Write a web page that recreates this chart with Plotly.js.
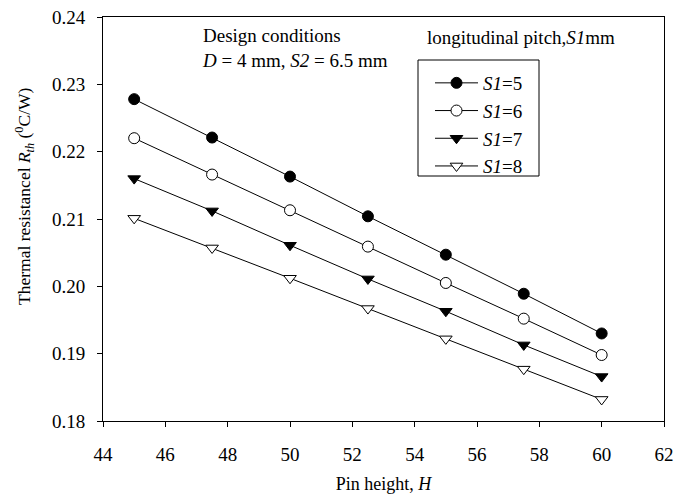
<!DOCTYPE html>
<html><head><meta charset="utf-8">
<script src="https://cdn.plot.ly/plotly-3.0.1.min.js"></script>
<style>html,body{margin:0;padding:0;background:#fff;}</style>
</head><body>
<div id="chart" style="width:676px;height:494px;"></div>
<script>
const pinHeight = [45, 47.5, 50, 52.5, 55, 57.5, 60];
const rS1_5 = [0.2278, 0.2221, 0.2163, 0.2104, 0.2047, 0.1989, 0.1930];
const rS1_6 = [0.2220, 0.2166, 0.2113, 0.2059, 0.2005, 0.1952, 0.1898];
const rS1_7 = [0.2160, 0.2112, 0.2061, 0.2011, 0.1963, 0.1913, 0.1866];
const rS1_8 = [0.2101, 0.2057, 0.2012, 0.1967, 0.1922, 0.1877, 0.1832];
const seriesNames = ['<i>S1</i>=5', '<i>S1</i>=6', '<i>S1</i>=7', '<i>S1</i>=8'];
const xTicks = [44, 46, 48, 50, 52, 54, 56, 58, 60, 62];
const yTicks = [0.18, 0.19, 0.20, 0.21, 0.22, 0.23, 0.24];

const font = '"Liberation Serif", "Times New Roman", Times, serif';
const markerDefs = [
  {symbol: 'circle', color: '#000', line: {color: '#000', width: 1}, size: 11},
  {symbol: 'circle', color: '#fff', line: {color: '#000', width: 1}, size: 11},
  {symbol: 'triangle-down', color: '#000', line: {color: '#000', width: 1}, size: 11},
  {symbol: 'triangle-down', color: '#fff', line: {color: '#000', width: 1}, size: 11}
];
const ys = [rS1_5, rS1_6, rS1_7, rS1_8];
const data = ys.map((y, i) => ({
  x: pinHeight, y: y, type: 'scatter', mode: 'lines+markers',
  name: seriesNames[i],
  line: {color: '#000', width: 1},
  marker: markerDefs[i]
}));

// plot area: x 103..664, y 17..421
const px = v => (v - 103) / 561;
const py = v => (421 - v) / 404;

const layout = {
  width: 676, height: 494,
  margin: {l: 103, r: 12, t: 17, b: 73},
  paper_bgcolor: '#fff', plot_bgcolor: '#fff',
  font: {family: font, size: 19, color: '#000'},
  showlegend: true,
  legend: {
    x: px(430), y: py(64), xanchor: 'left', yanchor: 'top',
    borderwidth: 0, bgcolor: 'rgba(0,0,0,0)',
    font: {family: font, size: 19, color: '#000'},
    itemwidth: 43, tracegroupgap: 0
  },
  shapes: [
    {type: 'rect', xref: 'paper', yref: 'paper', x0: px(418), x1: px(539), y0: py(176), y1: py(60),
     line: {color: '#000', width: 1}, fillcolor: 'rgba(0,0,0,0)'}
  ],
  xaxis: {
    range: [44, 62], tickvals: xTicks, ticks: 'outside', ticklen: 5, tickwidth: 1,
    tickcolor: '#000', showline: true, linecolor: '#000', linewidth: 1, mirror: true,
    showgrid: false, zeroline: false, ticklabelstandoff: 11,
    tickfont: {family: font, size: 19},
    title: {text: 'Pin height, <i>H</i>', font: {family: font, size: 18}, standoff: 13}
  },
  yaxis: {
    range: [0.18, 0.24], tickvals: yTicks, tickformat: '.2f', ticks: 'outside', ticklen: 5, tickwidth: 1,
    tickcolor: '#000', showline: true, linecolor: '#000', linewidth: 1, mirror: true,
    showgrid: false, zeroline: false, ticklabelstandoff: 8,
    tickfont: {family: font, size: 19}
  },
  annotations: [
    {xref: 'paper', yref: 'paper', x: px(25), y: py(196), xanchor: 'center', yanchor: 'middle', textangle: -90,
     text: 'Thermal resistancel <i>R<sub>th</sub></i> (<sup>0</sup>C/W)', showarrow: false, font: {family: font, size: 17.5}},
    {xref: 'paper', yref: 'paper', x: px(200), y: py(48), xanchor: 'left', yanchor: 'middle', align: 'left',
     text: 'Design conditions<br><i>D</i> = 4 mm, <i>S2</i> = 6.5 mm', showarrow: false, font: {family: font, size: 19}},
    {xref: 'paper', yref: 'paper', x: px(425), y: py(37), xanchor: 'left', yanchor: 'middle',
     text: 'longitudinal pitch,<i>S1</i>mm', showarrow: false, font: {family: font, size: 19}}
  ]
};
Plotly.newPlot('chart', data, layout, {staticPlot: true, displayModeBar: false});
</script>
</body></html>
